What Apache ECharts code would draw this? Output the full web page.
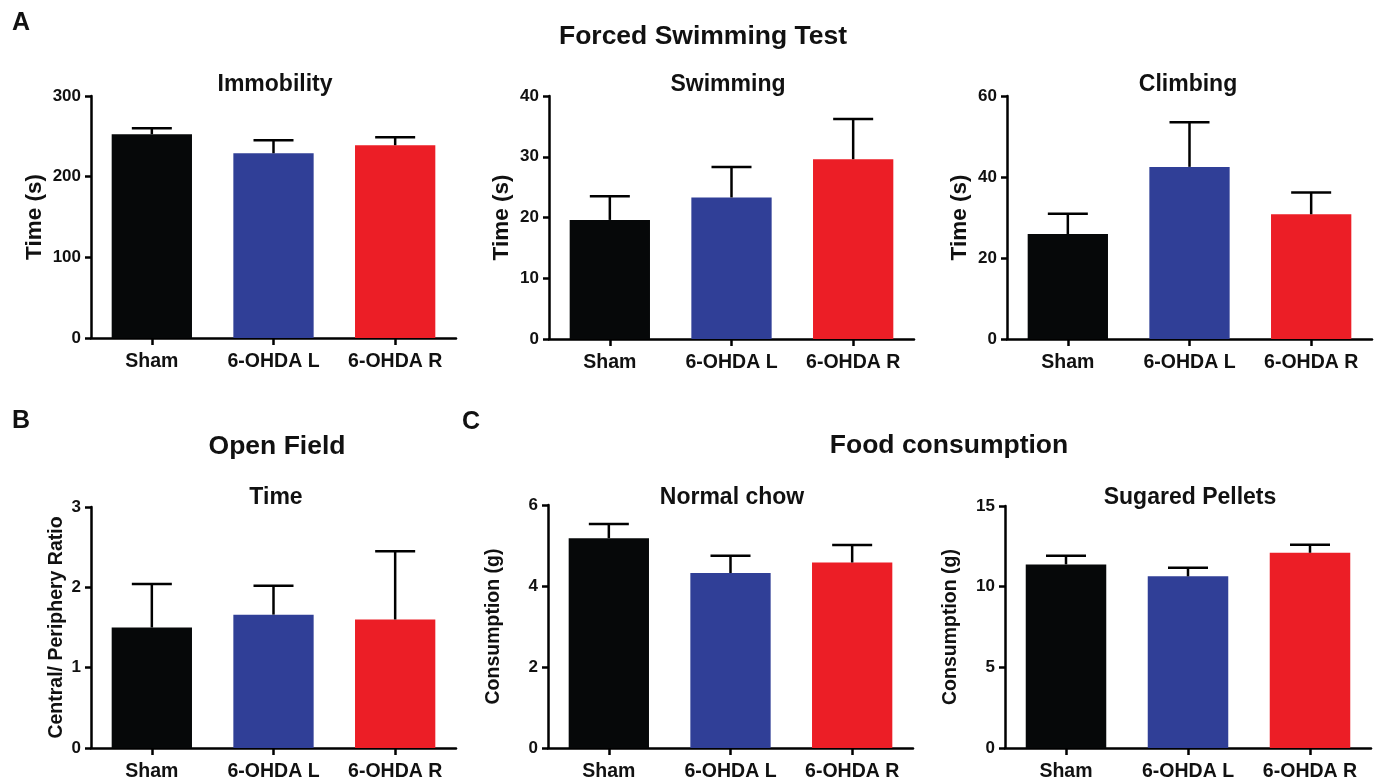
<!DOCTYPE html>
<html>
<head>
<meta charset="utf-8">
<script src="https://cdn.jsdelivr.net/npm/echarts@6/dist/echarts.min.js"></script>
<style>
html,body{margin:0;padding:0;background:#fff;}
#chart{width:1386px;height:782px;}
</style>
</head>
<body>
<div id="chart"></div>
<script>
// ---- data ----
var categories = ['Sham', '6-OHDA L', '6-OHDA R'];
var barColors = ['#060809', '#303f97', '#ec1e26'];

var immobilityMean = [252.5, 229, 239];
var immobilitySem  = [7.5, 16, 10];
var swimmingMean   = [19.6, 23.3, 29.6];
var swimmingSem    = [3.9, 5.0, 6.6];
var climbingMean   = [25.9, 42.5, 30.8];
var climbingSem    = [5.0, 11.0, 5.4];
var openFieldMean  = [1.50, 1.66, 1.60];
var openFieldSem   = [0.54, 0.36, 0.85];
var chowMean       = [5.18, 4.32, 4.58];
var chowSem        = [0.35, 0.43, 0.43];
var pelletsMean    = [11.38, 10.64, 12.10];
var pelletsSem     = [0.54, 0.54, 0.50];

var panelTitles = ['Immobility', 'Swimming', 'Climbing', 'Time', 'Normal chow', 'Sugared Pellets'];
var yNames = ['Time (s)', 'Time (s)', 'Time (s)', 'Central/ Periphery Ratio', 'Consumption (g)', 'Consumption (g)'];
var yMax = [300, 40, 60, 3, 6, 15];
var yInterval = [100, 10, 20, 1, 2, 5];

// ---- layout ----
var FONT = '"Liberation Sans", Arial, Helvetica, sans-serif';
var grids = [
  {left: 91,  top: 96,  width: 365, height: 242},
  {left: 549, top: 96,  width: 365, height: 243},
  {left: 1007,top: 96,  width: 365, height: 243},
  {left: 91,  top: 507, width: 365, height: 241},
  {left: 548, top: 505, width: 365, height: 243},
  {left: 1005,top: 506, width: 366, height: 243}
];
var nameGaps = [45, 36, 36, 24, 44, 44];
var nameSizes = [22.5, 22.5, 22.5, 19.5, 19.5, 19.5];
var titleCenters = [[275, 85], [728, 85], [1188, 85], [276, 498], [732, 498], [1190, 498]];

var means = [immobilityMean, swimmingMean, climbingMean, openFieldMean, chowMean, pelletsMean];
var sems  = [immobilitySem, swimmingSem, climbingSem, openFieldSem, chowSem, pelletsSem];

var option = {
  animation: false,
  backgroundColor: '#ffffff',
  grid: grids.map(function (g) { return Object.assign({containLabel: false}, g); }),
  xAxis: [], yAxis: [], series: [], graphic: []
};

for (var i = 0; i < 6; i++) {
  option.xAxis.push({
    type: 'category', gridIndex: i, data: categories,
    axisLine: {show: true, lineStyle: {color: '#000', width: 2.5}},
    axisTick: {show: true, alignWithLabel: true, length: 7, lineStyle: {color: '#000', width: 2.5}},
    axisLabel: {color: '#111', fontFamily: FONT, fontWeight: 'bold', fontSize: 19.5, margin: 14, interval: 0},
    splitLine: {show: false}
  });
  option.yAxis.push({
    type: 'value', gridIndex: i, min: 0, max: yMax[i], interval: yInterval[i],
    name: yNames[i], nameLocation: 'middle', nameRotate: 90, nameGap: nameGaps[i],
    nameTextStyle: {color: '#111', fontFamily: FONT, fontWeight: 'bold', fontSize: nameSizes[i]},
    axisLine: {show: true, lineStyle: {color: '#000', width: 2.5}},
    axisTick: {show: true, length: 6, lineStyle: {color: '#000', width: 2.5}},
    axisLabel: {color: '#111', fontFamily: FONT, fontWeight: 'bold', fontSize: 17, margin: 10},
    splitLine: {show: false}
  });
  option.series.push({
    type: 'bar', xAxisIndex: i, yAxisIndex: i, barWidth: '66%',
    data: means[i].map(function (v, k) { return {value: v, itemStyle: {color: barColors[k]}}; }),
    z: 2
  });
  (function (m, s) {
    option.series.push({
      type: 'custom', xAxisIndex: i, yAxisIndex: i, z: 3,
      data: m.map(function (v, k) { return [k, v, v + s[k]]; }),
      encode: {x: 0, y: [1, 2]},
      renderItem: function (params, api) {
        var base = api.coord([api.value(0), api.value(1)]);
        var top = api.coord([api.value(0), api.value(2)]);
        var half = 20;
        return {
          type: 'group',
          children: [
            {type: 'line', shape: {x1: base[0], y1: base[1], x2: top[0], y2: top[1]},
             style: {stroke: '#000', lineWidth: 2.5}},
            {type: 'line', shape: {x1: top[0] - half, y1: top[1], x2: top[0] + half, y2: top[1]},
             style: {stroke: '#000', lineWidth: 2.5}}
          ]
        };
      }
    });
  })(means[i], sems[i]);
  option.graphic.push({
    type: 'text', x: titleCenters[i][0], y: titleCenters[i][1],
    style: {text: panelTitles[i], fill: '#111', font: 'bold 23px ' + FONT, textAlign: 'center', textVerticalAlign: 'middle'}
  });
}

var bigTexts = [
  ['A', 21, 23, 25],
  ['B', 21, 421, 25],
  ['C', 471, 422, 25],
  ['Forced Swimming Test', 703, 37, 26.5],
  ['Open Field', 277, 447, 26.5],
  ['Food consumption', 949, 446, 26.5]
];
bigTexts.forEach(function (t) {
  option.graphic.push({
    type: 'text', x: t[1], y: t[2],
    style: {text: t[0], fill: '#111', font: 'bold ' + t[3] + 'px ' + FONT, textAlign: 'center', textVerticalAlign: 'middle'}
  });
});

var chart = echarts.init(document.getElementById('chart'));
chart.setOption(option);
</script>
</body>
</html>
